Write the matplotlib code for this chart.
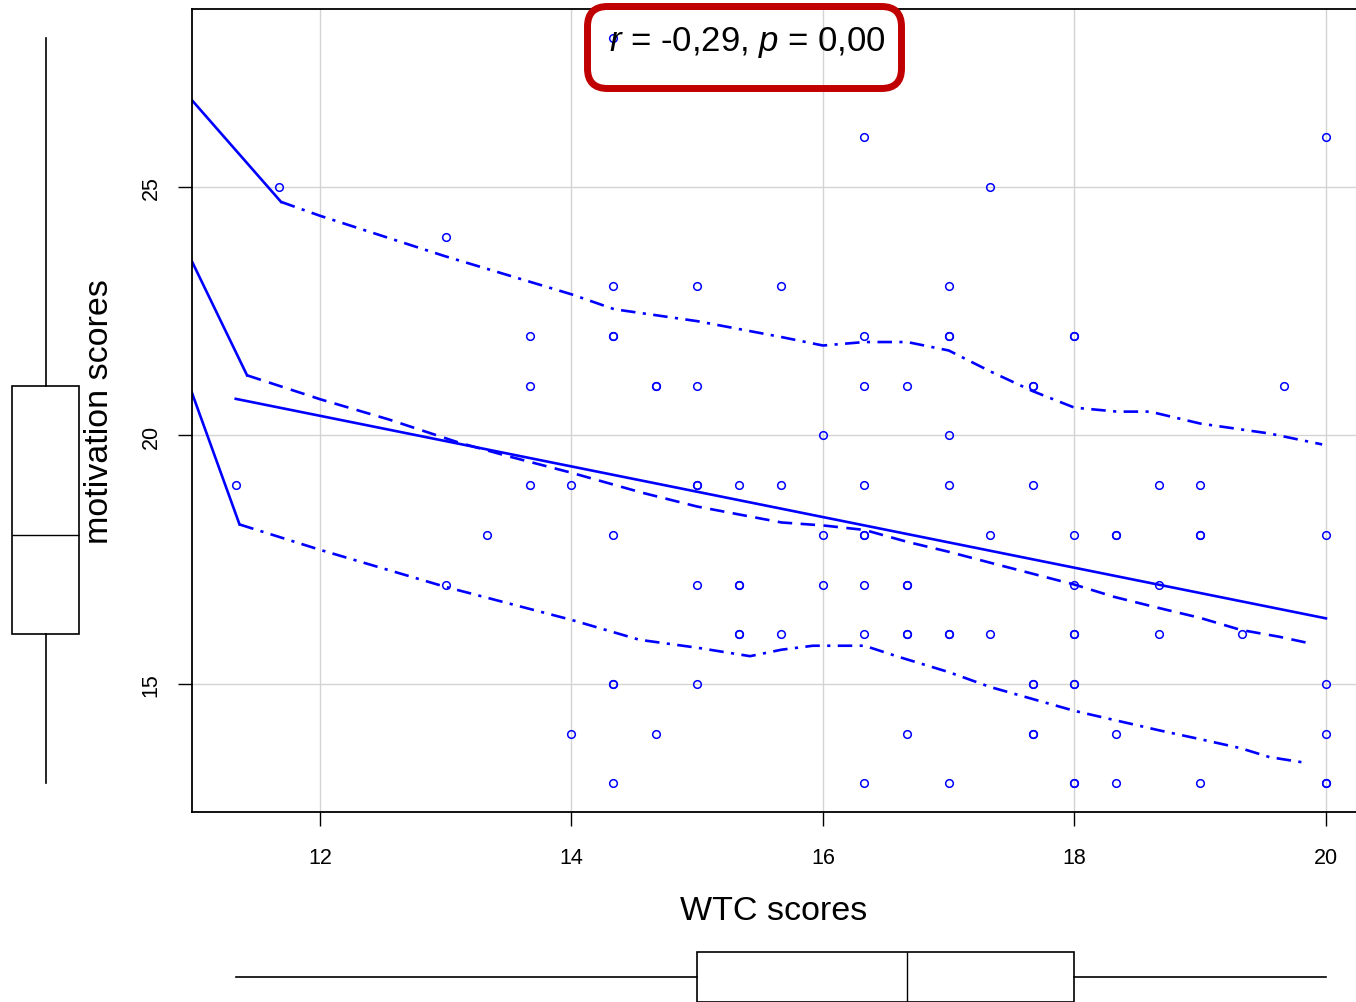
import numpy as np
import matplotlib
matplotlib.use('Agg')
import matplotlib.pyplot as plt
from matplotlib.patches import FancyBboxPatch

plt.rcParams['font.family'] = ['Liberation Sans', 'DejaVu Sans']
plt.rcParams['mathtext.fontset'] = 'custom'
plt.rcParams['mathtext.rm'] = 'Liberation Sans'
plt.rcParams['mathtext.it'] = 'Liberation Sans:italic'

# pontos: escore WTC (x) e escore de motivacao (y)
wtc = [11.33,
       11.67,
       13.0, 13.0,
       13.33,
       13.67, 13.67, 13.67,
       14.0, 14.0,
       14.33, 14.33, 14.33, 14.33, 14.33, 14.33, 14.33, 14.33,
       14.67, 14.67, 14.67,
       15.0, 15.0, 15.0, 15.0, 15.0, 15.0,
       15.33, 15.33, 15.33, 15.33, 15.33,
       15.67, 15.67, 15.67,
       16.0, 16.0, 16.0,
       16.33, 16.33, 16.33, 16.33, 16.33, 16.33, 16.33, 16.33, 16.33,
       16.67, 16.67, 16.67, 16.67, 16.67, 16.67,
       17.0, 17.0, 17.0, 17.0, 17.0, 17.0, 17.0, 17.0,
       17.33, 17.33, 17.33,
       17.67, 17.67, 17.67, 17.67, 17.67, 17.67, 17.67,
       18.0, 18.0, 18.0, 18.0, 18.0, 18.0, 18.0, 18.0, 18.0, 18.0,
       18.33, 18.33, 18.33, 18.33,
       18.67, 18.67, 18.67,
       19.0, 19.0, 19.0, 19.0,
       19.33,
       19.67,
       20.0, 20.0, 20.0, 20.0, 20.0, 20.0]
motivacao = [19,
             25,
             24, 17,
             18,
             22, 21, 19,
             19, 14,
             28, 23, 22, 22, 18, 15, 15, 13,
             21, 21, 14,
             23, 21, 19, 19, 17, 15,
             19, 17, 17, 16, 16,
             23, 19, 16,
             20, 18, 17,
             26, 22, 21, 19, 18, 18, 17, 16, 13,
             21, 17, 17, 16, 16, 14,
             23, 22, 22, 20, 19, 16, 16, 13,
             25, 18, 16,
             21, 21, 19, 15, 15, 14, 14,
             22, 22, 18, 17, 16, 16, 15, 15, 13, 13,
             18, 18, 14, 13,
             19, 17, 16,
             19, 18, 18, 13,
             16,
             21,
             26, 18, 15, 14, 13, 13]

# curvas suavizadas (loess) e faixas de dispersao
suave_x = [11.42, 12.0, 12.55, 13.10, 13.50, 14.0, 14.56, 15.0, 15.67, 16.0,
           16.33, 16.67, 17.0, 17.33, 18.0, 18.32, 18.67, 19.0, 19.32, 19.63, 19.85]
suave_y = [21.21, 20.73, 20.32, 19.86, 19.58, 19.25, 18.85, 18.57, 18.25, 18.19,
           18.10, 17.86, 17.66, 17.44, 17.0, 16.75, 16.53, 16.33, 16.09, 15.95, 15.83]
sup_x = [11.69, 12.0, 12.99, 14.0, 14.34, 15.0, 15.67, 16.0, 16.33, 16.67,
         17.0, 17.33, 17.67, 18.0, 18.34, 18.6, 19.0, 19.55, 19.97]
sup_y = [24.70, 24.42, 23.61, 22.84, 22.54, 22.30, 21.98, 21.81, 21.88, 21.88,
         21.71, 21.29, 20.89, 20.56, 20.48, 20.48, 20.24, 20.04, 19.82]
inf_x = [11.36, 12.0, 12.99, 14.0, 14.54, 15.0, 15.42, 15.67, 15.92, 16.33,
         16.61, 17.0, 17.33, 18.0, 18.67, 19.0, 19.32, 19.55, 19.85]
inf_y = [18.21, 17.70, 16.96, 16.29, 15.89, 15.73, 15.56, 15.69, 15.77, 15.77,
         15.54, 15.24, 14.94, 14.46, 14.07, 13.89, 13.71, 13.53, 13.41]

# trechos retos que ligam a borda do grafico ao inicio das curvas
ligacao_x = [[10.98, 11.69], [10.98, 11.42], [10.98, 11.36]]
ligacao_y = [[26.75, 24.70], [23.51, 21.21], [20.87, 18.21]]

texto_cor = r'$r$ = -0,29, $p$ = 0,00'

azul = '#0000FF'
W, H = 1356, 1003

fig = plt.figure(figsize=(W / 100, H / 100), dpi=100)

# grafico principal
ax = fig.add_axes([192 / W, (H - 813) / H, (W - 192) / W, 803 / H])
ax.set_xlim(10.982, 20.239)
ax.set_ylim(12.425, 28.58)
ax.set_xticks([12, 14, 16, 18, 20])
ax.set_yticks([15, 20, 25])
ax.grid(True, color='#D3D3D3', lw=1.0)
ax.set_axisbelow(True)
for lado in ['left', 'bottom', 'top']:
    ax.spines[lado].set_linewidth(1.3)
ax.spines['right'].set_visible(False)
ax.tick_params(axis='both', direction='out', length=10, width=1.0,
               labelsize=15.5)
ax.tick_params(axis='x', pad=15)
ax.tick_params(axis='y', labelrotation=90, pad=12)
for rot in ax.get_yticklabels():
    rot.set_va('center')
ax.set_xlabel('WTC scores', fontsize=24.5, labelpad=20)
ax.set_ylabel('motivation scores', fontsize=24.5, labelpad=18)

ax.plot(wtc, motivacao, 'o', mfc='none', mec=azul, ms=5.5, mew=1.1, zorder=3)

# reta de minimos quadrados
coef = np.polyfit(wtc, motivacao, 1)
xr = np.array([min(wtc), max(wtc)])
ax.plot(xr, np.polyval(coef, xr), color=azul, lw=1.9)

ax.plot(suave_x, suave_y, color=azul, lw=1.9, dashes=(5.5, 3.2))
ax.plot(sup_x, sup_y, color=azul, lw=1.9, dashes=(5.5, 2.8, 1.2, 2.8))
ax.plot(inf_x, inf_y, color=azul, lw=1.9, dashes=(5.5, 2.8, 1.2, 2.8))
for lx, ly in zip(ligacao_x, ligacao_y):
    ax.plot(lx, ly, color=azul, lw=1.9)

# boxplot marginal de y (esquerda)
ax_esq = fig.add_axes([0, (H - 813) / H, 192 / W, 803 / H], sharey=ax)
ax_esq.set_xlim(0, 192)
ax_esq.boxplot(motivacao, positions=[45.5], widths=67, whis=(0, 100),
               showcaps=False, showfliers=False, patch_artist=True,
               boxprops=dict(facecolor='white', edgecolor='black', lw=1.2),
               medianprops=dict(color='black', lw=1.0),
               whiskerprops=dict(color='black', lw=1.2))
ax_esq.axis('off')
ax_esq.set_zorder(-1)

# boxplot marginal de x (embaixo)
ax_inf = fig.add_axes([192 / W, 0, (W - 192) / W, 80 / H], sharex=ax)
ax_inf.set_ylim(H, H - 80)
ax_inf.boxplot(wtc, positions=[978], widths=50, whis=(0, 100),
               orientation='horizontal',
               showcaps=False, showfliers=False, patch_artist=True,
               boxprops=dict(facecolor='white', edgecolor='black', lw=1.2),
               medianprops=dict(color='black', lw=1.0),
               whiskerprops=dict(color='black', lw=1.2))
ax_inf.axis('off')

# caixa com o coeficiente de correlacao
caixa = FancyBboxPatch((5.875, 9.135), 9.015 - 5.875, 9.955 - 9.135,
                       boxstyle='round,pad=0,rounding_size=0.2',
                       transform=fig.dpi_scale_trans, fill=False,
                       edgecolor='#C00000', lw=5, zorder=10)
fig.patches.append(caixa)
fig.text(747 / W, 1 - 43 / H, texto_cor, fontsize=25, ha='center', va='center')

fig.savefig('out.png', dpi=100)
